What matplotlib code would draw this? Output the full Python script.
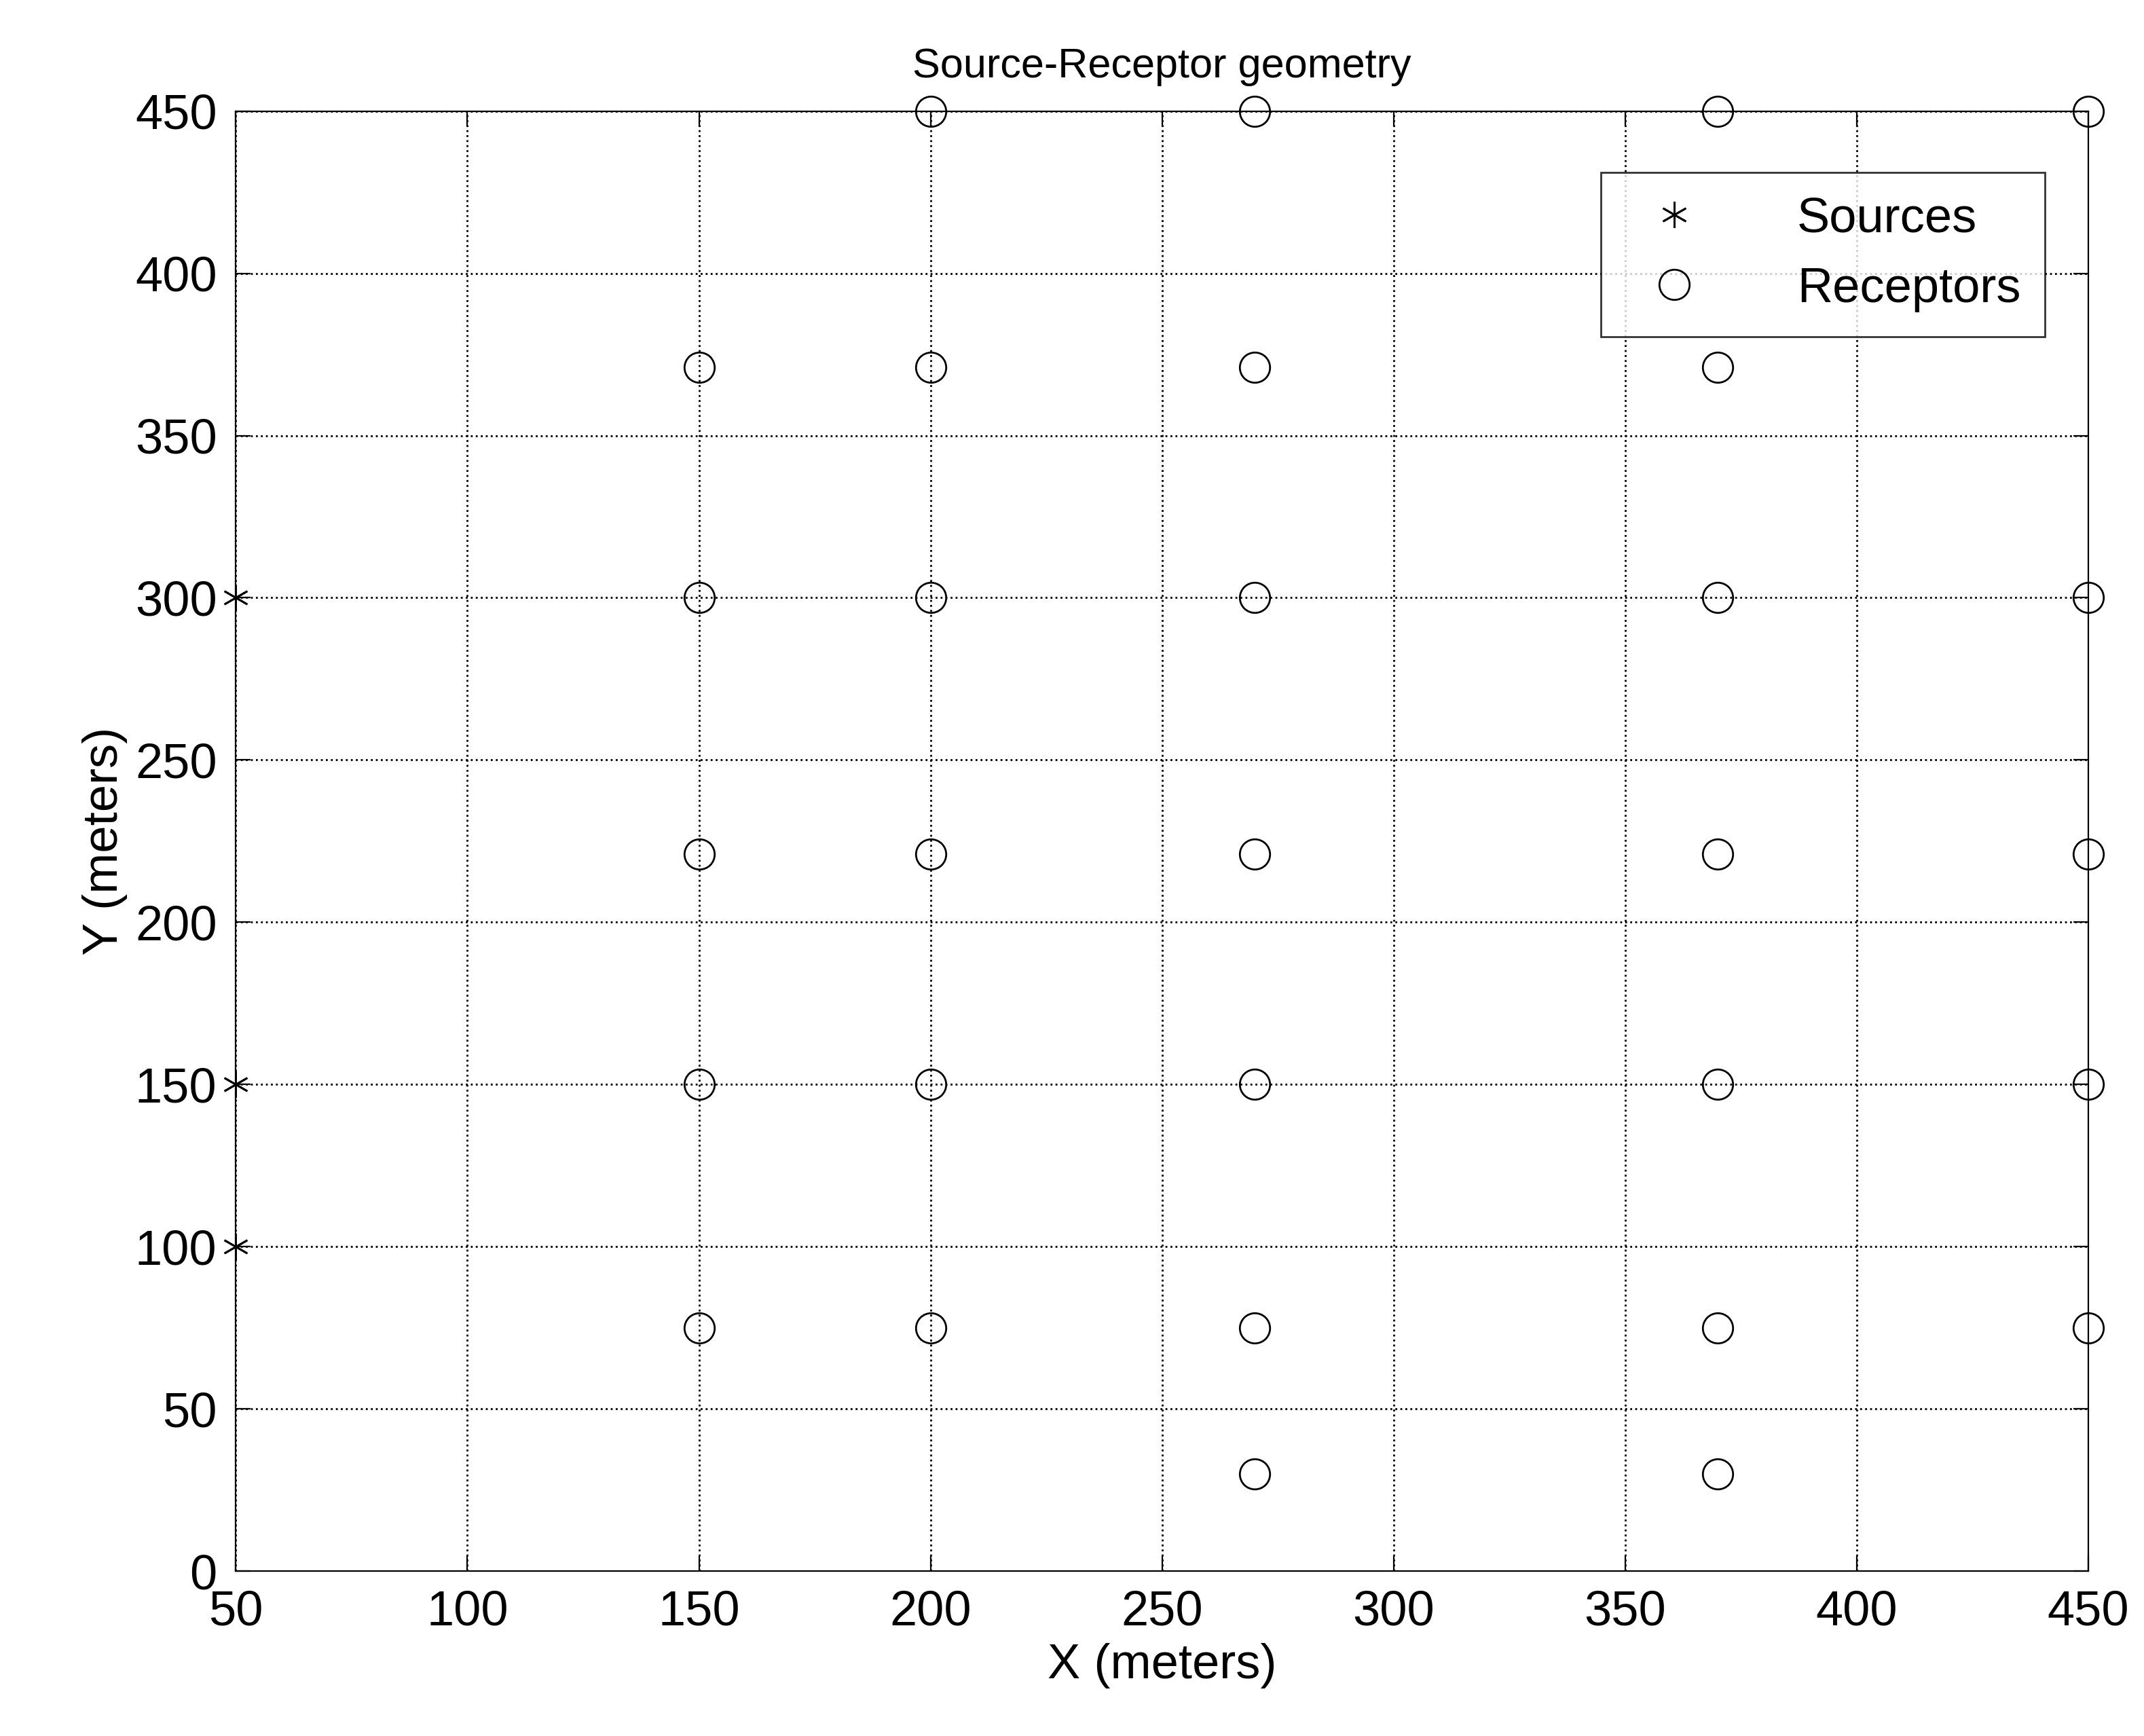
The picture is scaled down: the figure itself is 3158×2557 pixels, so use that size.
import matplotlib
matplotlib.use('Agg')
import matplotlib.pyplot as plt

src_x = [50, 50, 50]
src_y = [300, 150, 100]

rec_x = [150]*5 + [200]*6 + [270]*7 + [370]*7 + [450]*5
rec_y = [371, 300, 221, 150, 75,
         450, 371, 300, 221, 150, 75,
         450, 371, 300, 221, 150, 75, 30,
         450, 371, 300, 221, 150, 75, 30,
         450, 300, 221, 150, 75]

plt.rcParams['font.family'] = ['Liberation Sans', 'DejaVu Sans']
fig = plt.figure(figsize=(15.79, 12.785), dpi=200)
ax = fig.add_axes([0.110, 0.095, 0.864, 0.841])

ax.plot(src_x, src_y, linestyle='none', marker=(6, 2, 0), color='black', markersize=14,
        markeredgewidth=1.0, label='Sources', clip_on=False)
ax.plot(rec_x, rec_y, 'o', color='black', markersize=16, markerfacecolor='none',
        markeredgewidth=1.0, label='Receptors', clip_on=False)

ax.set_xlim(50, 450)
ax.set_ylim(0, 450)
ax.set_xticks(range(50, 451, 50))
ax.set_yticks(range(0, 451, 50))
ax.grid(True, color='black', linestyle=':', linewidth=1.0)
ax.tick_params(labelsize=26, direction='in', length=8, top=True, right=True, pad=10)
ax.set_xlabel('X (meters)', fontsize=26, labelpad=4)
ax.set_ylabel('Y (meters)', fontsize=26, labelpad=4)
ax.set_title('Source-Receptor geometry', fontsize=22, pad=18)
leg = ax.legend(loc='upper right', fontsize=26, fancybox=False, edgecolor='black',
                borderpad=0.5, handletextpad=1.5, bbox_to_anchor=(0.99, 0.975))
leg.get_frame().set_linewidth(1.0)

fig.savefig('out.png', dpi=200)
